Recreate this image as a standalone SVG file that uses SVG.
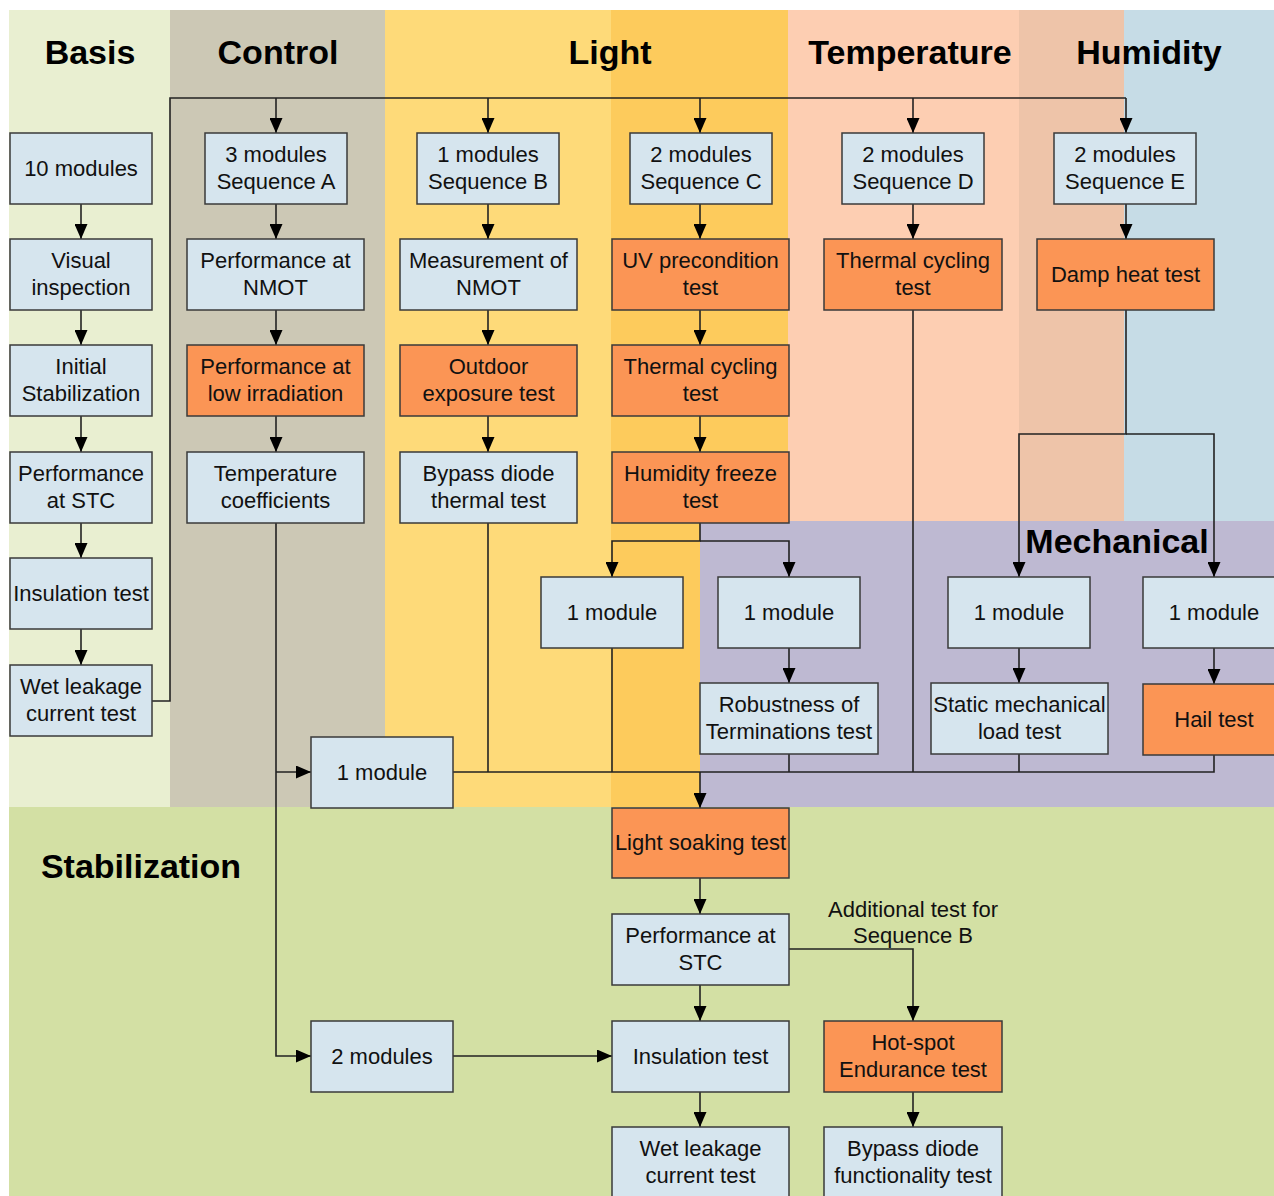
<svg xmlns="http://www.w3.org/2000/svg" width="1274" height="1196" viewBox="0 0 1274 1196">
<style>
.n{fill:#D6E5EE;stroke:#3A3A3A;stroke-width:1.5}
.o{fill:#FB9555;stroke:#3A3A3A;stroke-width:1.5}
.t{font-family:"Liberation Sans",Arial,sans-serif;font-size:22px;fill:#111;text-anchor:middle}
.h{font-family:"Liberation Sans",Arial,sans-serif;font-size:34px;font-weight:bold;fill:#000;text-anchor:middle}
.c{fill:none;stroke:#222;stroke-width:1.6}
.a{marker-end:url(#arr)}
</style>
<defs>
<marker id="arr" markerUnits="userSpaceOnUse" markerWidth="15" markerHeight="13" refX="15" refY="6.5" orient="auto">
<path d="M0,0 L15,6.5 L0,13 Z" fill="#000"/>
</marker>
</defs>
<rect x="0" y="0" width="1274" height="1196" fill="#FFFFFF"/>
<g id="backgrounds">
<rect x="9" y="10" width="161" height="797" fill="#E9EFD1"/>
<rect x="170" y="10" width="215" height="797" fill="#CCC8B5"/>
<rect x="385" y="10" width="226" height="797" fill="#FEDA79"/>
<rect x="611" y="10" width="177" height="511" fill="#FDCB5C"/>
<rect x="611" y="521" width="89" height="286" fill="#FDCB5C"/>
<rect x="788" y="10" width="231" height="511" fill="#FDCEB2"/>
<rect x="1019" y="10" width="105" height="511" fill="#EEC4A9"/>
<rect x="1124" y="10" width="150" height="511" fill="#C6DCE6"/>
<rect x="700" y="521" width="574" height="286" fill="#BEB9D2"/>
<rect x="9" y="807" width="1265" height="389" fill="#D3E0A4"/>
</g>
<g id="headers">
<text class="h" x="90" y="64">Basis</text>
<text class="h" x="278" y="64">Control</text>
<text class="h" x="610" y="64">Light</text>
<text class="h" x="910" y="64">Temperature</text>
<text class="h" x="1149" y="64">Humidity</text>
<text class="h" x="1117" y="553">Mechanical</text>
<text class="h" x="141" y="878">Stabilization</text>
</g>
<g id="connectors">
<path class="c" d="M152,701 H170 V98 H1126"/>
<path class="c a" d="M276,98 V133"/>
<path class="c a" d="M488,98 V133"/>
<path class="c a" d="M700,98 V133"/>
<path class="c a" d="M913,98 V133"/>
<path class="c a" d="M1126,98 V133"/>
<path class="c a" d="M81,204 V239"/>
<path class="c a" d="M81,310 V345"/>
<path class="c a" d="M81,416 V452"/>
<path class="c a" d="M81,523 V558"/>
<path class="c a" d="M81,629 V665"/>
<path class="c a" d="M276,204 V239"/>
<path class="c a" d="M276,310 V345"/>
<path class="c a" d="M276,416 V452"/>
<path class="c a" d="M276,523 V1056 H311"/>
<path class="c a" d="M276,772 H311"/>
<path class="c a" d="M488,204 V239"/>
<path class="c a" d="M488,310 V345"/>
<path class="c a" d="M488,416 V452"/>
<path class="c" d="M488,523 V772"/>
<path class="c a" d="M700,204 V239"/>
<path class="c a" d="M700,310 V345"/>
<path class="c a" d="M700,416 V452"/>
<path class="c a" d="M700,523 V541 H612 V577"/>
<path class="c a" d="M700,541 H789 V577"/>
<path class="c a" d="M913,204 V239"/>
<path class="c" d="M913,310 V772"/>
<path class="c a" d="M1126,204 V239"/>
<path class="c a" d="M1126,310 V434 H1019 V577"/>
<path class="c a" d="M1126,434 H1214 V577"/>
<path class="c a" d="M789,648 V683"/>
<path class="c a" d="M1019,648 V683"/>
<path class="c a" d="M1214,648 V684"/>
<path class="c" d="M453,772 H1214 V755"/>
<path class="c" d="M612,648 V772"/>
<path class="c" d="M789,754 V772"/>
<path class="c" d="M1019,754 V772"/>
<path class="c a" d="M700,772 V808"/>
<path class="c a" d="M700,878 V914"/>
<path class="c a" d="M700,985 V1021"/>
<path class="c a" d="M700,1092 V1127"/>
<path class="c a" d="M789,949 H913 V1021"/>
<path class="c a" d="M913,1092 V1127"/>
<path class="c a" d="M453,1056 H612"/>
</g>
<g id="n_10modules"><rect class="n" x="10" y="133" width="142" height="71"/><text class="t" x="81" y="175.5">10 modules</text></g>
<g id="n_visual"><rect class="n" x="10" y="239" width="142" height="71"/><text class="t" x="81" y="268">Visual</text><text class="t" x="81" y="295">inspection</text></g>
<g id="n_initstab"><rect class="n" x="10" y="345" width="142" height="71"/><text class="t" x="81" y="374">Initial</text><text class="t" x="81" y="401">Stabilization</text></g>
<g id="n_perfstc1"><rect class="n" x="10" y="452" width="142" height="71"/><text class="t" x="81" y="481">Performance</text><text class="t" x="81" y="508">at STC</text></g>
<g id="n_insul1"><rect class="n" x="10" y="558" width="142" height="71"/><text class="t" x="81" y="600.5">Insulation test</text></g>
<g id="n_wetleak1"><rect class="n" x="10" y="665" width="142" height="71"/><text class="t" x="81" y="694">Wet leakage</text><text class="t" x="81" y="721">current test</text></g>
<g id="n_seqA"><rect class="n" x="205" y="133" width="142" height="71"/><text class="t" x="276" y="162">3 modules</text><text class="t" x="276" y="189">Sequence A</text></g>
<g id="n_perfnmot"><rect class="n" x="187" y="239" width="177" height="71"/><text class="t" x="275.5" y="268">Performance at</text><text class="t" x="275.5" y="295">NMOT</text></g>
<g id="n_lowirr"><rect class="o" x="187" y="345" width="177" height="71"/><text class="t" x="275.5" y="374">Performance at</text><text class="t" x="275.5" y="401">low irradiation</text></g>
<g id="n_tempcoef"><rect class="n" x="187" y="452" width="177" height="71"/><text class="t" x="275.5" y="481">Temperature</text><text class="t" x="275.5" y="508">coefficients</text></g>
<g id="n_seqB"><rect class="n" x="417" y="133" width="142" height="71"/><text class="t" x="488" y="162">1 modules</text><text class="t" x="488" y="189">Sequence B</text></g>
<g id="n_measnmot"><rect class="n" x="400" y="239" width="177" height="71"/><text class="t" x="488.5" y="268">Measurement of</text><text class="t" x="488.5" y="295">NMOT</text></g>
<g id="n_outdoor"><rect class="o" x="400" y="345" width="177" height="71"/><text class="t" x="488.5" y="374">Outdoor</text><text class="t" x="488.5" y="401">exposure test</text></g>
<g id="n_bypass1"><rect class="n" x="400" y="452" width="177" height="71"/><text class="t" x="488.5" y="481">Bypass diode</text><text class="t" x="488.5" y="508">thermal test</text></g>
<g id="n_seqC"><rect class="n" x="630" y="133" width="142" height="71"/><text class="t" x="701" y="162">2 modules</text><text class="t" x="701" y="189">Sequence C</text></g>
<g id="n_uv"><rect class="o" x="612" y="239" width="177" height="71"/><text class="t" x="700.5" y="268">UV precondition</text><text class="t" x="700.5" y="295">test</text></g>
<g id="n_tc1"><rect class="o" x="612" y="345" width="177" height="71"/><text class="t" x="700.5" y="374">Thermal cycling</text><text class="t" x="700.5" y="401">test</text></g>
<g id="n_hf"><rect class="o" x="612" y="452" width="177" height="71"/><text class="t" x="700.5" y="481">Humidity freeze</text><text class="t" x="700.5" y="508">test</text></g>
<g id="n_seqD"><rect class="n" x="842" y="133" width="142" height="71"/><text class="t" x="913" y="162">2 modules</text><text class="t" x="913" y="189">Sequence D</text></g>
<g id="n_tc2"><rect class="o" x="824" y="239" width="178" height="71"/><text class="t" x="913" y="268">Thermal cycling</text><text class="t" x="913" y="295">test</text></g>
<g id="n_seqE"><rect class="n" x="1054" y="133" width="142" height="71"/><text class="t" x="1125" y="162">2 modules</text><text class="t" x="1125" y="189">Sequence E</text></g>
<g id="n_damp"><rect class="o" x="1037" y="239" width="177" height="71"/><text class="t" x="1125.5" y="281.5">Damp heat test</text></g>
<g id="n_mod1"><rect class="n" x="541" y="577" width="142" height="71"/><text class="t" x="612" y="619.5">1 module</text></g>
<g id="n_mod2"><rect class="n" x="718" y="577" width="142" height="71"/><text class="t" x="789" y="619.5">1 module</text></g>
<g id="n_mod3"><rect class="n" x="948" y="577" width="142" height="71"/><text class="t" x="1019" y="619.5">1 module</text></g>
<g id="n_mod4"><rect class="n" x="1143" y="577" width="142" height="71"/><text class="t" x="1214" y="619.5">1 module</text></g>
<g id="n_robust"><rect class="n" x="700" y="683" width="178" height="71"/><text class="t" x="789" y="712">Robustness of</text><text class="t" x="789" y="739">Terminations test</text></g>
<g id="n_static"><rect class="n" x="931" y="683" width="177" height="71"/><text class="t" x="1019.5" y="712">Static mechanical</text><text class="t" x="1019.5" y="739">load test</text></g>
<g id="n_hail"><rect class="o" x="1143" y="684" width="142" height="71"/><text class="t" x="1214" y="726.5">Hail test</text></g>
<g id="n_mod5"><rect class="n" x="311" y="737" width="142" height="71"/><text class="t" x="382" y="779.5">1 module</text></g>
<g id="n_lightsoak"><rect class="o" x="612" y="808" width="177" height="70"/><text class="t" x="700.5" y="849.5">Light soaking test</text></g>
<g id="n_perfstc2"><rect class="n" x="612" y="914" width="177" height="71"/><text class="t" x="700.5" y="943">Performance at</text><text class="t" x="700.5" y="970">STC</text></g>
<g id="n_insul2"><rect class="n" x="612" y="1021" width="177" height="71"/><text class="t" x="700.5" y="1063.5">Insulation test</text></g>
<g id="n_wetleak2"><rect class="n" x="612" y="1127" width="177" height="71"/><text class="t" x="700.5" y="1156">Wet leakage</text><text class="t" x="700.5" y="1183">current test</text></g>
<g id="n_hotspot"><rect class="o" x="824" y="1021" width="178" height="71"/><text class="t" x="913" y="1050">Hot-spot</text><text class="t" x="913" y="1077">Endurance test</text></g>
<g id="n_bypass2"><rect class="n" x="824" y="1127" width="178" height="71"/><text class="t" x="913" y="1156">Bypass diode</text><text class="t" x="913" y="1183">functionality test</text></g>
<g id="n_2mod"><rect class="n" x="311" y="1021" width="142" height="71"/><text class="t" x="382" y="1063.5">2 modules</text></g>
<g id="label_additional"><text class="t" x="913" y="916.5">Additional test for</text><text class="t" x="913" y="943">Sequence B</text></g>
</svg>
